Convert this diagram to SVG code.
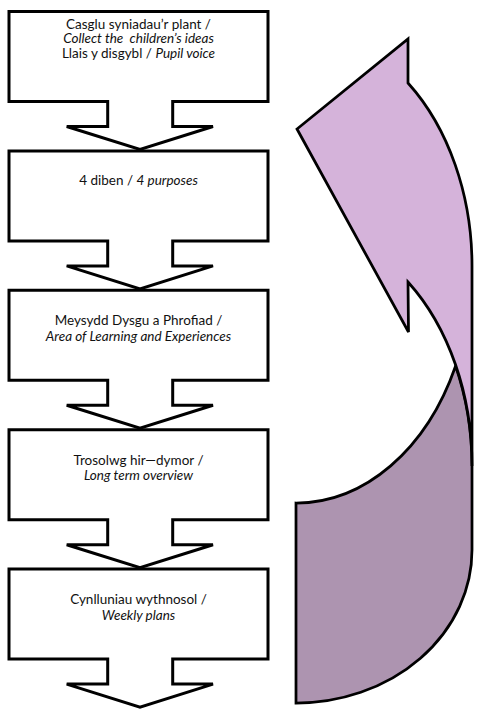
<svg xmlns="http://www.w3.org/2000/svg" width="492" height="720" viewBox="0 0 492 720">
<style>
.box{fill:#ffffff;stroke:#000000;stroke-width:3;stroke-linejoin:miter}
.t{font-family:Lato,"Liberation Sans",sans-serif;font-size:13.5px;fill:#111111;text-anchor:middle}
.i{font-style:italic}
.arr{stroke:#000000;stroke-width:2.75;stroke-linejoin:miter}
</style>
<rect width="492" height="720" fill="#ffffff"/>
<g id="node1">
<path class="box" d="M9,11.5 H268 V101.5 H172.7 V126.5 H213 L140,149.5 L66.7,126.5 H107.7 V101.5 H9 Z"/>
<text class="t" x="138.5" y="28.5">Casglu syniadau’r plant /</text>
<text class="t i" x="138.5" y="43" xml:space="preserve">Collect the  children’s ideas</text>
<text class="t" x="138.5" y="57.5" xml:space="preserve">Llais y disgybl / <tspan class="i">Pupil voice</tspan></text>
</g>
<g id="node2">
<path class="box" d="M9,150.9 H268 V240.9 H172.7 V265.9 H213 L140,288.9 L66.7,265.9 H107.7 V240.9 H9 Z"/>
<text class="t" x="138.5" y="185" xml:space="preserve">4 diben / <tspan class="i">4 purposes</tspan></text>
</g>
<g id="node3">
<path class="box" d="M9,290.3 H268 V380.3 H172.7 V405.3 H213 L140,428.3 L66.7,405.3 H107.7 V380.3 H9 Z"/>
<text class="t" x="138.5" y="325">Meysydd Dysgu a Phrofiad /</text>
<text class="t i" x="138.5" y="341">Area of Learning and Experiences</text>
</g>
<g id="node4">
<path class="box" d="M9,429.7 H268 V519.7 H172.7 V544.7 H213 L140,567.7 L66.7,544.7 H107.7 V519.7 H9 Z"/>
<text class="t" x="138.5" y="465">Trosolwg hir—dymor /</text>
<text class="t i" x="138.5" y="480">Long term overview</text>
</g>
<g id="node5">
<path class="box" d="M9,569.1 H268 V659.1 H172.7 V684.1 H213 L140,707.1 L66.7,684.1 H107.7 V659.1 H9 Z"/>
<text class="t" x="138.5" y="604">Cynlluniau wythnosol /</text>
<text class="t i" x="138.5" y="620">Weekly plans</text>
</g>
<g id="connectors">
<path class="arr" fill="#AD94B0" d="M296,503 A176,237 0 0,0 455.6,366 A176,237 0 0,1 472,466 L472,550 A176,153 0 0,1 296,703 Z"/>
<path class="arr" fill="#D5B3DA" d="M408,83 A176,237 0 0,1 472,266 L472,466 A176,237 0 0,0 408,282 L408.5,332 L297,129 L408,39 Z"/>
</g>
</svg>
